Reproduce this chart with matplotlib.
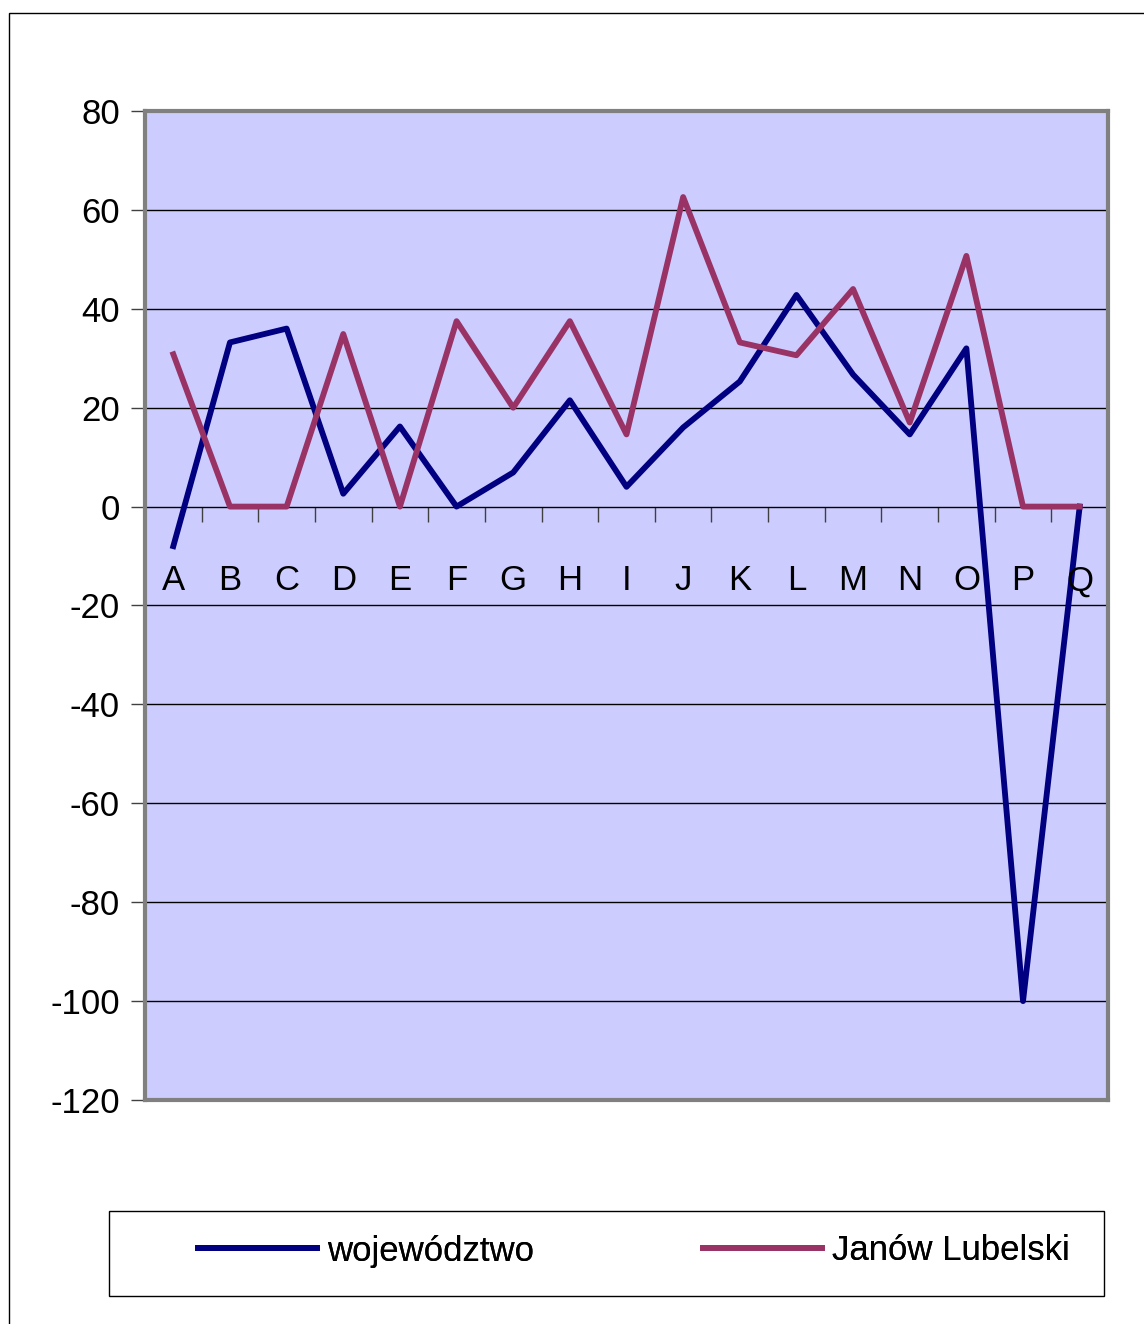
import matplotlib
matplotlib.use('Agg')
import matplotlib.pyplot as plt
from matplotlib.patches import Rectangle

# categories and series
categories = list('ABCDEFGHIJKLMNOPQ')
wojewodztwo = [-8, 33.2, 36, 2.6, 16.2, 0, 6.9, 21.5, 4, 16, 25.3, 42.8, 26.7, 14.6, 32, -100, 0]
janow = [30.8, 0, 0, 34.9, 0, 37.5, 20, 37.5, 14.6, 62.6, 33.2, 30.6, 44, 17, 50.7, 0, 0]
yticks = [80, 60, 40, 20, 0, -20, -40, -60, -80, -100, -120]

plt.rcParams['font.family'] = ['Liberation Sans', 'DejaVu Sans']
FS = 25

W, H = 1144, 1324
fig = plt.figure(figsize=(W / 100, H / 100), dpi=100)

# outer chart border (cut off at right and bottom)
fig.patches.append(Rectangle((9 / W, -0.05), 1.2, 1 - 13 / H + 0.05, transform=fig.transFigure,
                             fill=False, edgecolor='black', linewidth=1))

ax = fig.add_axes([145 / W, 1 - 1100 / H, (1108 - 145) / W, (1100 - 111) / H])
ax.set_facecolor('#CCCCFF')
x = list(range(len(categories)))
l1, = ax.plot(x, wojewodztwo, color='#000080', linewidth=4.2, label='województwo')
l2, = ax.plot(x, janow, color='#993366', linewidth=4.2, label='Janów Lubelski')

ax.set_xlim(-0.5, len(categories) - 0.5)
ax.set_ylim(-120, 80)
ax.set_yticks(yticks)
ax.set_yticklabels([str(v) for v in yticks], fontsize=FS)
ax.tick_params(axis='y', length=10, width=1, color='#404040', pad=8)
ax.yaxis.grid(True, color='black', linewidth=1)
ax.set_axisbelow(True)
ax.set_xticks([])
for s in ax.spines.values():
    s.set_color('#808080')
    s.set_linewidth(3)

# tick marks hanging below the zero line
sec = ax.secondary_xaxis(120 / 200)
sec.set_xticks([i + 0.5 for i in x])
sec.set_xticklabels([])
sec.tick_params(axis='x', direction='in', length=11, width=1, color='#404040')
for s in sec.spines.values():
    s.set_visible(False)

# category labels sit inside the plot below zero
for i, c in zip(x, categories):
    ax.text(i, -15, c, ha='center', va='center', fontsize=FS)

# legend box with two entries
fig.patches.append(Rectangle((109 / W, 1 - 1296 / H), (1104 - 109) / W, 85 / H,
                             transform=fig.transFigure, fill=False, edgecolor='black', linewidth=1))
for handle, x0 in [(l1, 198), (l2, 703)]:
    leg = fig.legend(handles=[handle], loc='center left', bbox_to_anchor=(x0 / W, 1 - 1251 / H),
                     frameon=False, fontsize=FS, handlelength=120 / 35, handletextpad=0.3,
                     borderpad=0, borderaxespad=0)
    fig.add_artist(leg)

fig.savefig('out.png', dpi=100)
